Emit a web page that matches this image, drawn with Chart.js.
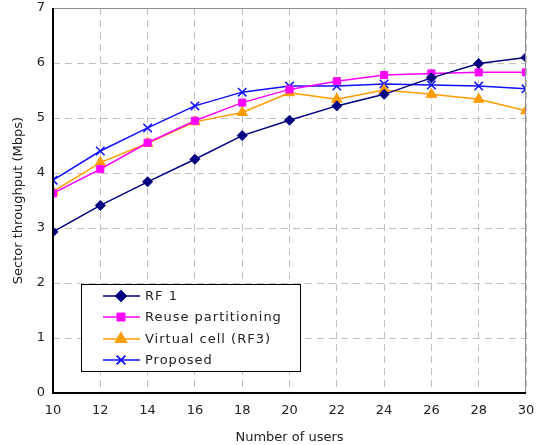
<!DOCTYPE html>
<html>
<head>
<meta charset="utf-8">
<script src="https://cdn.jsdelivr.net/npm/chart.js@4"></script>
<style>
  html, body { margin: 0; padding: 0; background: #fff; }
  #wrap { width: 541px; height: 445px; }
</style>
</head>
<body>
<div id="wrap"><canvas id="myChart" width="541" height="445"></canvas></div>
<script>
// datos
const usuarios = [10, 12, 14, 16, 18, 20, 22, 24, 26, 28, 30];
const rf1 = [2.93, 3.41, 3.84, 4.25, 4.68, 4.96, 5.22, 5.43, 5.73, 5.99, 6.10];
const reuse = [3.63, 4.07, 4.55, 4.95, 5.28, 5.52, 5.67, 5.78, 5.81, 5.83, 5.83];
const virtualCell = [3.66, 4.19, 4.54, 4.93, 5.10, 5.46, 5.34, 5.51, 5.43, 5.34, 5.13];
const propuesto = [3.87, 4.40, 4.82, 5.22, 5.47, 5.58, 5.58, 5.62, 5.60, 5.58, 5.53];
const nombres = ["RF 1", "Reuse partitioning", "Virtual cell (RF3)", "Proposed"];
const yTicks = [0, 1, 2, 3, 4, 5, 6, 7];

const FONT = "DejaVu Sans";

function puntos(serie) {
  return usuarios.map((u, i) => ({ x: u, y: serie[i] }));
}

function serie(label, data, color, estilo, radio) {
  return {
    label: label,
    data: puntos(data),
    borderColor: color,
    backgroundColor: color,
    borderWidth: 1.5,
    pointStyle: estilo,
    pointRadius: radio,
    pointHoverRadius: radio,
    pointBorderWidth: estilo === "crossRot" ? 1.5 : 1,
    tension: 0,
  };
}

// marco del area y leyenda dentro del grafico
const marcoYLeyenda = {
  id: "marcoYLeyenda",
  afterDatasetsDraw(chart) {
    const { ctx, chartArea: a } = chart;
    ctx.save();
    ctx.strokeStyle = "#909090";
    ctx.lineWidth = 1;
    ctx.beginPath();
    ctx.moveTo(a.left, a.top + 0.5);
    ctx.lineTo(a.right - 0.5, a.top + 0.5);
    ctx.lineTo(a.right - 0.5, a.bottom);
    ctx.stroke();
    ctx.strokeStyle = "#000";
    ctx.lineWidth = 2;
    ctx.beginPath();
    ctx.moveTo(a.left, a.top);
    ctx.lineTo(a.left, a.bottom);
    ctx.lineTo(a.right, a.bottom);
    ctx.stroke();

    // leyenda
    const bx = 81, by = 284, bw = 219, bh = 87;
    ctx.fillStyle = "#fff";
    ctx.fillRect(bx, by, bw, bh);
    ctx.strokeStyle = "#000";
    ctx.lineWidth = 1;
    ctx.strokeRect(bx + 0.5, by + 0.5, bw, bh);
    const filas = [296, 317, 339, 360];
    ctx.font = "13px '" + FONT + "'";
    ctx.letterSpacing = "1px";
    ctx.textBaseline = "middle";
    ctx.textAlign = "left";
    chart.data.datasets.forEach((ds, i) => {
      const y = filas[i];
      ctx.strokeStyle = ds.borderColor;
      ctx.lineWidth = 1.5;
      ctx.beginPath();
      ctx.moveTo(103, y);
      ctx.lineTo(140, y);
      ctx.stroke();
      Chart.helpers.drawPoint(ctx, {
        pointStyle: ds.pointStyle,
        radius: ds.pointRadius,
        rotation: 0,
        borderWidth: ds.pointBorderWidth,
      }, 121, y);
      ctx.fillStyle = ds.borderColor;
      ctx.strokeStyle = ds.borderColor;
      ctx.fill();
      ctx.stroke();
      ctx.fillStyle = "#222";
      ctx.fillText(ds.label, 145, y + 1);
    });
    ctx.restore();
  },
};

const ctx = document.getElementById("myChart").getContext("2d");
ctx.letterSpacing = "0.7px";
const myChart = new Chart(ctx, {
  type: "line",
  data: {
    datasets: [
      serie(nombres[0], rf1, "#000080", "rectRot", 5),
      serie(nombres[1], reuse, "#FF00FF", "rect", 5),
      serie(nombres[2], virtualCell, "#FF9C00", "triangle", 6),
      serie(nombres[3], propuesto, "#1010FF", "crossRot", 6),
    ],
  },
  options: {
    responsive: false,
    animation: false,
    layout: { padding: { top: 8, right: 15, left: 11, bottom: 0 } },
    plugins: {
      legend: { display: false },
      tooltip: { enabled: false },
    },
    scales: {
      x: {
        type: "linear",
        min: 10,
        max: 30,
        ticks: {
          stepSize: 2,
          color: "#222",
          font: { family: FONT, size: 13 },
          padding: 10,
        },
        grid: {
          color: "#c0c0c0",
          lineWidth: 1,
          drawTicks: false,
        },
        border: { display: false, dash: [7, 5] },
        title: {
          display: true,
          text: "Number of users",
          color: "#222",
          font: { family: FONT, size: 13 },
          padding: { top: 4, bottom: 0 },
        },
        afterFit(scale) {
          scale.height = 52;
          scale.paddingLeft = 0;
          scale.paddingRight = 0;
        },
      },
      y: {
        min: 0,
        max: 7,
        afterBuildTicks(scale) { scale.ticks = yTicks.map((v) => ({ value: v })); },
        ticks: {
          color: "#222",
          font: { family: FONT, size: 13 },
          padding: 8,
        },
        grid: {
          color: "#c0c0c0",
          lineWidth: 1,
          drawTicks: false,
        },
        border: { display: false, dash: [7, 5] },
        title: {
          display: true,
          text: "Sector throughput (Mbps)",
          color: "#222",
          font: { family: FONT, size: 13 },
          padding: { top: 0, bottom: 4 },
        },
        afterFit(scale) {
          scale.width = 42;
          scale.paddingTop = 0;
          scale.paddingBottom = 0;
        },
      },
    },
  },
  plugins: [marcoYLeyenda],
});
</script>
</body>
</html>
